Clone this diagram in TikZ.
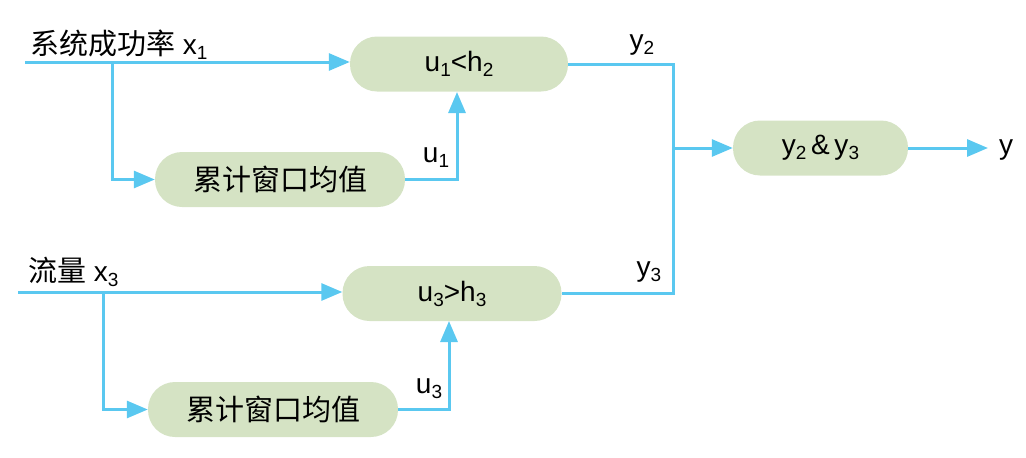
\documentclass[tikz,border=0pt]{standalone}
\usepackage{fontspec}
\setmainfont{Liberation Sans}
\newfontfamily\cjkfam{Noto Sans CJK SC}
\newcommand{\cjk}{\cjkfam\fontsize{29}{34}\selectfont}
\usetikzlibrary{arrows.meta}
\definecolor{linec}{HTML}{5AC8F0}
\definecolor{boxc}{HTML}{D5E3C4}
\newcommand{\sub}[1]{\raisebox{-5pt}{\fontsize{19}{19}\selectfont #1}}
\tikzset{
  box/.style={fill=boxc, draw=none, rounded corners=27pt, minimum height=55pt, inner sep=0pt, font=\fontsize{28}{32}\selectfont},
  conn/.style={draw=linec, line width=3pt},
  arr/.style={conn, -{Triangle[length=21pt,width=17pt]}},
  lbl/.style={font=\fontsize{28}{32}\selectfont, inner sep=0pt},
}
\begin{document}
\begin{tikzpicture}[x=1pt,y=-1pt]
\useasboundingbox (0,0) rectangle (1026,458);
% boxes
\node[box, minimum width=218pt] (b1) at (459,64) {u\sub{1}<h\sub{2}};
\node[box, minimum width=250pt] (a1) at (280,179.5) {\cjk 累计窗口均值};
\node[box, minimum width=219pt] (b2) at (452,293.5) {u\sub{3}>h\sub{3}};
\node[box, minimum width=250pt] (a2) at (273,409.5) {\cjk 累计窗口均值};
\node[box, minimum width=175pt] (c) at (820.5,148) {y\sub{2}\,\&\,y\sub{3}};
% labels
\node[lbl, anchor=base west] (t1) at (30,54) {{\cjk 系统成功率} x\sub{1}};
\node[lbl, anchor=base west] (t3) at (28,281) {{\cjk 流量} x\sub{3}};
\node[lbl] (lu1) at (436,158) {u\sub{1}};
\node[lbl] (lu3) at (429,389) {u\sub{3}};
\node[lbl] (ly2) at (642,45) {y\sub{2}};
\node[lbl] (ly3) at (649,272) {y\sub{3}};
\node[lbl, anchor=west] (ly) at (999,150) {y};
% coordinates
\coordinate (in1) at (25,62);
\coordinate (br1) at (112,62);
\coordinate (in3) at (18,292);
\coordinate (br3) at (103,292);
\coordinate (jx) at (673,148);
\coordinate (yout) at (988,148);
% connectors
\draw[arr] (in1) -- (in1 -| b1.west);
\draw[arr] (br1) |- (a1.west);
\draw[arr] (a1.east) -| (457,92);
\draw[arr] (in3) -- (in3 -| b2.west);
\draw[arr] (br3) |- (a2.west);
\draw[arr] (a2.east) -| (449,321);
\draw[conn] (b1.east) -- (b1.east -| jx) -- (b2.east -| jx) -- (b2.east);
\draw[arr] (jx) -- (c.west);
\draw[arr] (c.east) -- (yout);
\end{tikzpicture}
\end{document}
